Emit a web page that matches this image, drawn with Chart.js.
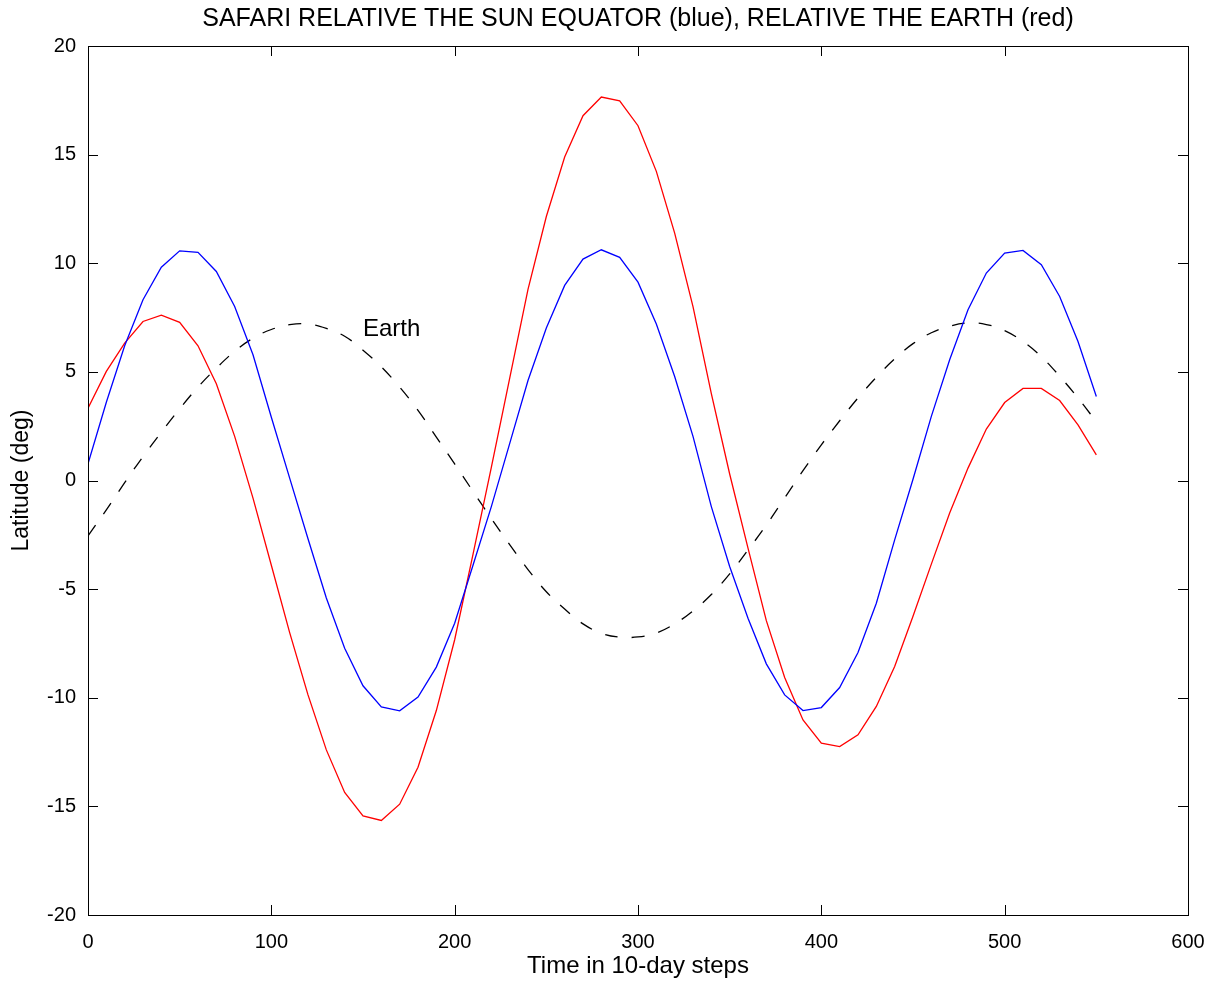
<!DOCTYPE html>
<html>
<head>
<meta charset="utf-8">
<script src="https://cdn.jsdelivr.net/npm/chart.js@4.4.1/dist/chart.umd.min.js"></script>
<style>
  body { margin: 0; background: #fff; }
  canvas { display: block; }
</style>
</head>
<body>
<canvas id="safariChart" width="1213" height="982"></canvas>
<script>
// time in 10-day steps
const steps = [0, 10, 20, 30, 40, 50, 60, 70, 80, 90, 100, 110, 120, 130, 140, 150, 160, 170, 180, 190,
    200, 210, 220, 230, 240, 250, 260, 270, 280, 290, 300, 310, 320, 330, 340, 350, 360, 370, 380, 390,
    400, 410, 420, 430, 440, 450, 460, 470, 480, 490, 500, 510, 520, 530, 540, 550];

// latitude relative the sun equator (blue)
const sunLat = [0.77, 3.6, 6.2, 8.32, 9.82, 10.57, 10.5, 9.62, 8.01, 5.79, 2.91, 0.11, -2.68, -5.41, -7.72, -9.45, -10.42, -10.6, -9.97, -8.59,
    -6.57, -3.9, -1.2, 1.7, 4.6, 7.02, 8.98, 10.19, 10.62, 10.27, 9.13, 7.2, 4.79, 2.03, -1.2, -3.96, -6.34, -8.44, -9.87, -10.59,
    -10.45, -9.53, -7.92, -5.65, -2.73, 0.06, 2.95, 5.56, 7.86, 9.55, 10.47, 10.59, 9.93, 8.47, 6.4, 3.87];

// latitude relative the earth (red)
const earthRelLat = [3.33, 5.02, 6.32, 7.32, 7.61, 7.28, 6.2, 4.45, 2.03, -0.81, -3.9, -7.0, -9.87, -12.4, -14.36, -15.44, -15.65, -14.9, -13.2, -10.59,
    -7.33, -3.4, 0.6, 4.7, 8.8, 12.15, 14.89, 16.79, 17.65, 17.48, 16.33, 14.23, 11.39, 8.0, 4.0, 0.3, -3.11, -6.45, -9.07, -11.02,
    -12.09, -12.25, -11.71, -10.4, -8.56, -6.25, -3.85, -1.5, 0.57, 2.37, 3.59, 4.24, 4.24, 3.68, 2.56, 1.18];

// earth (dashed)
const earthLat = [-2.55, -1.35, -0.1, 1.1, 2.22, 3.3, 4.3, 5.17, 5.95, 6.55, 6.95, 7.17, 7.2, 7.0, 6.64, 6.0, 5.23, 4.3, 3.23, 2.0,
    0.76, -0.5, -1.75, -2.95, -4.1, -5.12, -5.92, -6.6, -7.03, -7.21, -7.2, -7.02, -6.6, -6.0, -5.25, -4.3, -3.2, -2.05, -0.8, 0.45,
    1.64, 2.75, 3.8, 4.75, 5.6, 6.3, 6.8, 7.1, 7.25, 7.18, 6.9, 6.4, 5.7, 4.8, 3.8, 2.7];

const xTicks = [0, 100, 200, 300, 400, 500, 600];
const yTicks = [-20, -15, -10, -5, 0, 5, 10, 15, 20];

const titleText = 'SAFARI RELATIVE THE SUN EQUATOR (blue), RELATIVE THE EARTH (red)';
const fontFamily = '"Liberation Sans", Arial, sans-serif';

const toPoints = (ys) => steps.map((s, i) => ({ x: s, y: ys[i] }));

// box, inward ticks, title and the "Earth" label
const framePlugin = {
    id: 'frame',
    afterDatasetsDraw(chart) {
        const { ctx, chartArea: a, scales } = chart;
        const len = 10;
        ctx.save();
        ctx.strokeStyle = '#000';
        ctx.lineWidth = 1;
        ctx.beginPath();
        xTicks.forEach(v => {
            const px = Math.round(scales.x.getPixelForValue(v)) + 0.5;
            ctx.moveTo(px, a.bottom); ctx.lineTo(px, a.bottom - len);
            ctx.moveTo(px, a.top); ctx.lineTo(px, a.top + len);
        });
        yTicks.forEach(v => {
            const py = Math.round(scales.y.getPixelForValue(v)) + 0.5;
            ctx.moveTo(a.left, py); ctx.lineTo(a.left + len, py);
            ctx.moveTo(a.right, py); ctx.lineTo(a.right - len, py);
        });
        ctx.stroke();
        ctx.strokeRect(Math.round(a.left) + 0.5, Math.round(a.top) + 0.5,
            Math.round(a.right - a.left), Math.round(a.bottom - a.top));

        ctx.fillStyle = '#000';
        ctx.textBaseline = 'middle';
        ctx.textAlign = 'center';
        ctx.font = '25px ' + fontFamily;
        ctx.fillText(titleText, (a.left + a.right) / 2, 19);
        ctx.textAlign = 'left';
        ctx.font = '24px ' + fontFamily;
        ctx.fillText('Earth', scales.x.getPixelForValue(150), scales.y.getPixelForValue(6.95));
        ctx.restore();
    }
};

const ctx = document.getElementById('safariChart').getContext('2d');
new Chart(ctx, {
    type: 'line',
    data: {
        datasets: [
            { data: toPoints(sunLat), borderColor: '#0000ff', borderWidth: 1.3, pointRadius: 0, tension: 0 },
            { data: toPoints(earthRelLat), borderColor: '#ff0000', borderWidth: 1.3, pointRadius: 0, tension: 0 },
            { data: toPoints(earthLat), borderColor: '#000000', borderWidth: 1.3, borderDash: [13, 14], pointRadius: 0, tension: 0.4 }
        ]
    },
    options: {
        responsive: false,
        animation: false,
        layout: { padding: { top: 46, right: 25, bottom: 0, left: 0 } },
        plugins: {
            legend: { display: false },
            tooltip: { enabled: false }
        },
        scales: {
            x: {
                type: 'linear',
                min: 0,
                max: 600,
                afterBuildTicks: (scale) => { scale.ticks = xTicks.map(v => ({ value: v })); },
                afterFit: (scale) => {
                    scale.height = 67;
                    scale.paddingLeft = 0;
                    scale.paddingRight = 0;
                },
                grid: { display: false, drawTicks: false },
                border: { display: false },
                ticks: { color: '#000', padding: 15, maxRotation: 0, font: { family: fontFamily, size: 20 } },
                title: { display: true, text: 'Time in 10-day steps', color: '#000', padding: { top: 0, bottom: 1 }, font: { family: fontFamily, size: 24 } }
            },
            y: {
                min: -20,
                max: 20,
                afterBuildTicks: (scale) => { scale.ticks = yTicks.map(v => ({ value: v })); },
                afterFit: (scale) => {
                    scale.width = 88;
                    scale.paddingTop = 0;
                    scale.paddingBottom = 0;
                },
                grid: { display: false, drawTicks: false },
                border: { display: false },
                ticks: { color: '#000', padding: 12, font: { family: fontFamily, size: 20 } },
                title: { display: true, text: 'Latitude (deg)', color: '#000', padding: { top: 8, bottom: 0 }, font: { family: fontFamily, size: 23 } }
            }
        }
    },
    plugins: [framePlugin]
});
</script>
</body>
</html>
